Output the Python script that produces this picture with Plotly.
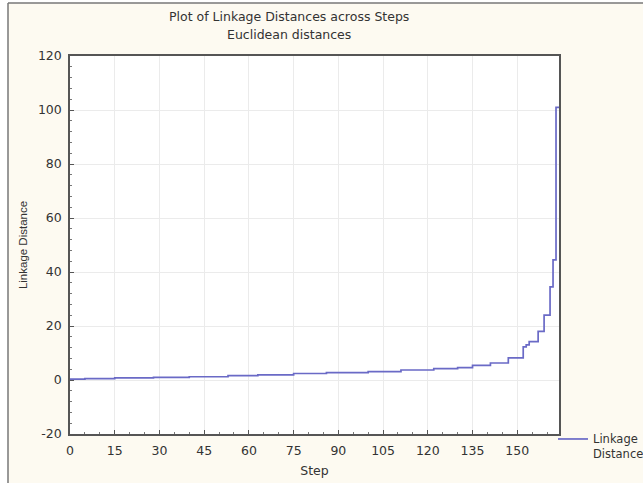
import plotly.graph_objects as go

# Linkage distance at each amalgamation step
segments = [
    (0, 4, 0.3), (5, 14, 0.5), (15, 27, 0.8), (28, 39, 1.0), (40, 52, 1.2),
    (53, 62, 1.6), (63, 74, 1.9), (75, 85, 2.4), (86, 99, 2.7), (100, 110, 3.1),
    (111, 121, 3.7), (122, 129, 4.2), (130, 134, 4.6), (135, 140, 5.4),
    (141, 146, 6.3), (147, 151, 8.2), (152, 152, 12.3), (153, 153, 13.0),
    (154, 156, 14.2), (157, 158, 18.0), (159, 160, 24.0), (161, 161, 34.5),
    (162, 162, 44.5), (163, 164, 101.0),
]
steps = []
distances = []
for a, b, v in segments:
    for s in range(a, b + 1):
        steps.append(s)
        distances.append(v)

x_ticks = [0, 15, 30, 45, 60, 75, 90, 105, 120, 135, 150]
y_ticks = [-20, 0, 20, 40, 60, 80, 100, 120]
y_tick_labels = ["-20", "0", "20", "40", "60", "80", "100", "120"]

title_line1 = "Plot of Linkage Distances across Steps"
title_line2 = "Euclidean distances"

FONT = "DejaVu Sans, Arial, sans-serif"
NARROW = "Liberation Sans, Arial, sans-serif"
CREAM = "#FDFAF1"
TXT = "#333333"
FS = 12.5

W, H = 643, 483
l, r, t, b = 70, 84, 56, 49
pw, ph = W - l - r, H - t - b
def px(xp):
    return (xp - l) / pw
def py(yp):
    return (H - b - yp) / ph

fig = go.Figure()
fig.add_trace(go.Scatter(
    x=steps, y=distances, mode="lines", line_shape="hv",
    line=dict(color="#6A6AC6", width=1.7),
    name="Linkage<br>Distance",
))

fig.update_layout(
    width=W, height=H,
    margin=dict(l=l, r=r, t=t, b=b, autoexpand=False),
    paper_bgcolor=CREAM, plot_bgcolor="white",
    font=dict(family=FONT, size=FS, color=TXT),
    showlegend=True,
    legend=dict(x=px(553), y=py(425), xanchor="left", yanchor="top",
                valign="top", bgcolor="rgba(0,0,0,0)",
                font=dict(family=FONT, size=11.5, color=TXT),
                itemwidth=30, tracegroupgap=0),
    xaxis=dict(
        range=[0, 164], tickvals=x_ticks, ticks="inside", ticklen=4,
        tickcolor="#555555", showline=True, linecolor="#555555", linewidth=1.5,
        mirror=True, showgrid=True, gridcolor="#EBEBEB", gridwidth=1,
        zeroline=False, ticklabelstandoff=4,
        title=dict(text="Step", standoff=9, font=dict(size=FS)),
        tickfont=dict(size=FS),
        minor=dict(dtick=5, ticks="inside", ticklen=2, tickcolor="#777777", showgrid=False),
    ),
    yaxis=dict(
        range=[-20, 120], tickvals=y_ticks, ticktext=y_tick_labels,
        ticks="inside", ticklen=4,
        tickcolor="#555555", showline=True, linecolor="#555555", linewidth=1.5,
        mirror=True, showgrid=True, gridcolor="#EBEBEB", gridwidth=1,
        zeroline=False, ticklabelstandoff=4,
        title=dict(text="Linkage Distance", standoff=8,
                   font=dict(family=NARROW, size=11.5)),
        tickfont=dict(size=FS),
        minor=dict(dtick=4, ticks="inside", ticklen=2, tickcolor="#777777", showgrid=False),
    ),
)

fig.add_annotation(text=title_line1, xref="paper", yref="paper", x=px(289), y=py(17),
                   xanchor="center", yanchor="middle", showarrow=False,
                   font=dict(family=FONT, size=FS, color=TXT))
fig.add_annotation(text=title_line2, xref="paper", yref="paper", x=px(289), y=py(34),
                   xanchor="center", yanchor="middle", showarrow=False,
                   font=dict(family=FONT, size=FS, color=TXT))

# window-like frame: white strip on the left/top with grey edge lines
fig.add_shape(type="rect", xref="paper", yref="paper", x0=px(0), x1=px(8),
              y0=py(H), y1=py(0), fillcolor="white", line=dict(width=0), layer="above")
fig.add_shape(type="rect", xref="paper", yref="paper", x0=px(0), x1=px(W),
              y0=py(3), y1=py(0), fillcolor="white", line=dict(width=0), layer="above")
fig.add_shape(type="line", xref="paper", yref="paper", x0=px(8), x1=px(8),
              y0=py(H), y1=py(3), line=dict(color="#777777", width=1.5))
fig.add_shape(type="line", xref="paper", yref="paper", x0=px(8), x1=px(W),
              y0=py(3), y1=py(3), line=dict(color="#777777", width=1.5))

fig.write_html("out.html", config={"displayModeBar": False},
               post_script="document.body.style.margin='0';document.body.style.overflow='hidden';")
